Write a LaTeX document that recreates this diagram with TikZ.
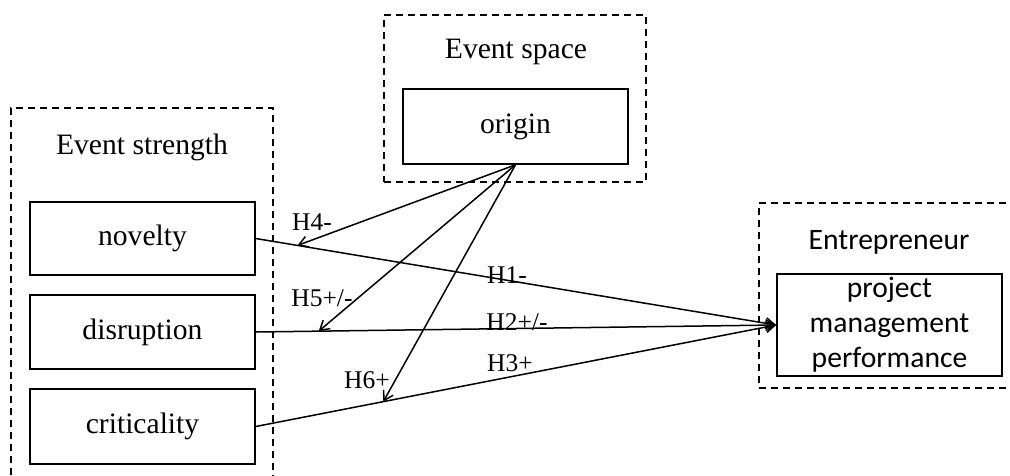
\documentclass[tikz,border=0pt]{standalone}
\usepackage{fontspec}
\setmainfont{Liberation Serif}
\newfontfamily\carlito{Carlito}
\usetikzlibrary{arrows.meta,calc}
\begin{document}
\begin{tikzpicture}[x=1pt,y=-1pt,
  box/.style={draw,line width=1.6pt,minimum width=225pt,inner sep=0pt,align=center,font=\fontsize{29.6}{35.5}\selectfont},
  group/.style={draw,dash pattern=on 7pt off 5pt,line width=1.4pt,inner sep=0pt},
  title/.style={inner sep=0pt,font=\fontsize{29.6}{35.5}\selectfont},
  lbl/.style={inner sep=0pt,font=\fontsize{25.5}{30}\selectfont},
  link/.style={line width=1.5pt,-{Straight Barb[length=9pt,width=11pt]}}]
\useasboundingbox (0,0) rectangle (1010,475);
\clip (0,0) rectangle (1010,475);
% groups
\node[group,minimum width=262pt,minimum height=400pt] (strengthgrp) at (142,308) {};
\node[group,minimum width=262pt,minimum height=167pt] (spacegrp) at (515,98.5) {};
\node[group,minimum width=271pt,minimum height=185pt] (entgrp) at (894.5,295.5) {};
% titles
\node[title] (strengthttl) at (142,147) {Event strength};
\node[title] (spacettl) at (516,52) {Event space};
\node[title,font=\carlito\fontsize{29.6}{35.5}\selectfont] (entttl) at (889,242) {Entrepreneur};
% boxes
\node[box,minimum height=73pt] (novelty) at (142.5,238.5) {novelty};
\node[box,minimum height=74pt] (disruption) at (142.5,332) {disruption};
\node[box,minimum height=75pt] (criticality) at (142.5,426.5) {criticality};
\node[box,minimum height=75pt] (origin) at (515.5,126.5) {origin};
\node[box,minimum height=102pt,font=\carlito\fontsize{29.6}{35}\selectfont] (pmp) at (889.5,325) {project\\management\\performance};
% main links
\draw[link] (novelty.east) -- (pmp.west);
\draw[link] (disruption.east) -- (pmp.west);
\draw[link] (criticality.east) -- (pmp.west);
% moderation targets
\coordinate (t4) at ($(novelty.east)!0.08!(pmp.west)$);
\coordinate (t5) at ($(disruption.east)!0.121!(pmp.west)$);
\coordinate (t6) at ($(criticality.east)!0.245!(pmp.west)$);
\draw[link] (origin.south) -- (t4);
\draw[link] (origin.south) -- (t5);
\draw[link] (origin.south) -- (t6);
% labels
\node[lbl] (h4) at (312,222) {H4-};
\node[lbl] (h1) at (507,275) {H1-};
\node[lbl] (h5) at (322,298) {H5+/-};
\node[lbl] (h2) at (517,322) {H2+/-};
\node[lbl] (h3) at (510,363) {H3+};
\node[lbl] (h6) at (367,380) {H6+};
\end{tikzpicture}
\end{document}
